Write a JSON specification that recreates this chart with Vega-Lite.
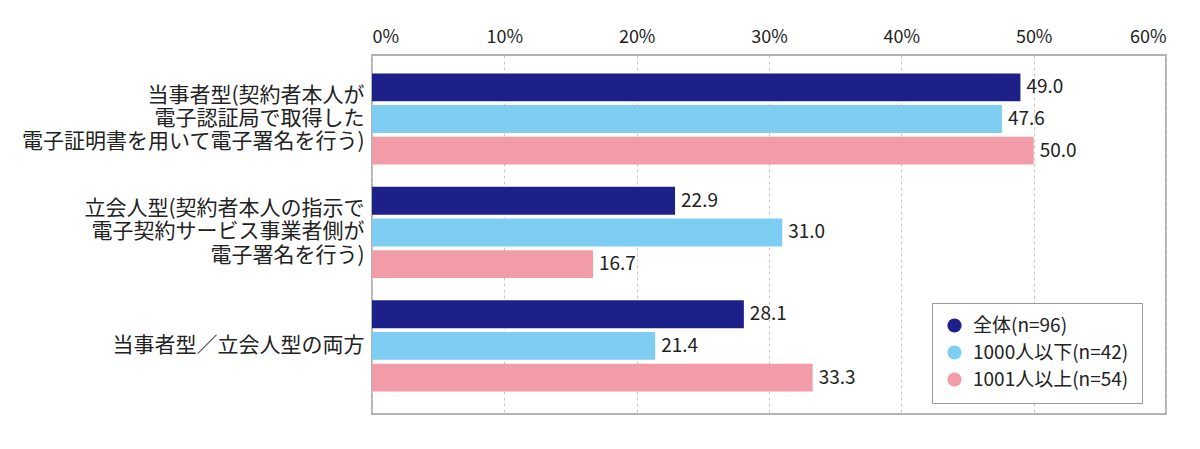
{
  "$schema": "https://vega.github.io/schema/vega-lite/v6.json",
  "width": 794,
  "height": 359,
  "autosize": {"type": "none"},
  "padding": {"left": 372, "top": 55, "right": 34, "bottom": 35},
  "background": "white",
  "config": {
    "font": "Noto Sans CJK JP",
    "view": {"stroke": "#9a9a9a", "strokeWidth": 1.5}
  },
  "data": {
    "values": [
      {"item": "当事者型(契約者本人が\n電子認証局で取得した\n電子証明書を用いて電子署名を行う)", "group": "全体(n=96)", "value": 49.0},
      {"item": "当事者型(契約者本人が\n電子認証局で取得した\n電子証明書を用いて電子署名を行う)", "group": "1000人以下(n=42)", "value": 47.6},
      {"item": "当事者型(契約者本人が\n電子認証局で取得した\n電子証明書を用いて電子署名を行う)", "group": "1001人以上(n=54)", "value": 50.0},
      {"item": "立会人型(契約者本人の指示で\n電子契約サービス事業者側が\n電子署名を行う)", "group": "全体(n=96)", "value": 22.9},
      {"item": "立会人型(契約者本人の指示で\n電子契約サービス事業者側が\n電子署名を行う)", "group": "1000人以下(n=42)", "value": 31.0},
      {"item": "立会人型(契約者本人の指示で\n電子契約サービス事業者側が\n電子署名を行う)", "group": "1001人以上(n=54)", "value": 16.7},
      {"item": "当事者型／立会人型の両方", "group": "全体(n=96)", "value": 28.1},
      {"item": "当事者型／立会人型の両方", "group": "1000人以下(n=42)", "value": 21.4},
      {"item": "当事者型／立会人型の両方", "group": "1001人以上(n=54)", "value": 33.3}
    ]
  },
  "encoding": {
    "y": {
      "field": "item",
      "type": "nominal",
      "sort": null,
      "scale": {"paddingInner": 0.196, "paddingOuter": 0.18, "align": 0.45},
      "axis": {
        "title": null,
        "labelExpr": "split(datum.label, '\\n')",
        "labelFontSize": 21,
        "labelLineHeight": 23.3,
        "labelColor": "#222222",
        "labelOffset": {"condition": {"test": "indexof(datum.value, '\\n') >= 0", "value": -23.3}, "value": 0},
        "ticks": false,
        "domain": false,
        "labelPadding": 8,
        "labelLimit": 400
      }
    },
    "yOffset": {
      "field": "group",
      "type": "nominal",
      "sort": ["全体(n=96)", "1000人以下(n=42)", "1001人以上(n=54)"],
      "scale": {"paddingInner": 0.12, "paddingOuter": 0}
    },
    "x": {
      "field": "value",
      "type": "quantitative",
      "scale": {"domain": [0, 60]},
      "axis": {
        "orient": "top",
        "title": null,
        "values": [0, 10, 20, 30, 40, 50, 60],
        "labelExpr": "datum.value + '%'",
        "grid": true,
        "gridDash": [3, 3],
        "gridColor": "#c8c8c8",
        "domain": false,
        "ticks": false,
        "labelFontSize": 18,
        "labelPadding": 9,
        "labelColor": "#222222"
      }
    }
  },
  "layer": [
    {
      "mark": {"type": "bar"},
      "encoding": {
        "color": {
          "field": "group",
          "type": "nominal",
          "sort": ["全体(n=96)", "1000人以下(n=42)", "1001人以上(n=54)"],
          "scale": {
            "domain": ["全体(n=96)", "1000人以下(n=42)", "1001人以上(n=54)"],
            "range": ["#1d2088", "#7ecef4", "#f19ca7"]
          },
          "legend": {
            "title": null,
            "orient": "none",
            "legendX": 560,
            "legendY": 248,
            "symbolType": "circle",
            "symbolSize": 201,
            "symbolStrokeWidth": 0,
            "labelFontSize": 19,
            "labelColor": "#222222",
            "labelOffset": 9,
            "labelLimit": 300,
            "rowPadding": 7,
            "padding": 13,
            "strokeColor": "#9a9a9a",
            "fillColor": "white"
          }
        }
      }
    },
    {
      "mark": {"type": "text", "align": "left", "baseline": "middle", "dx": 6, "fontSize": 19, "color": "#222222"},
      "encoding": {
        "text": {"field": "value", "type": "quantitative", "format": ".1f"}
      }
    }
  ]
}
